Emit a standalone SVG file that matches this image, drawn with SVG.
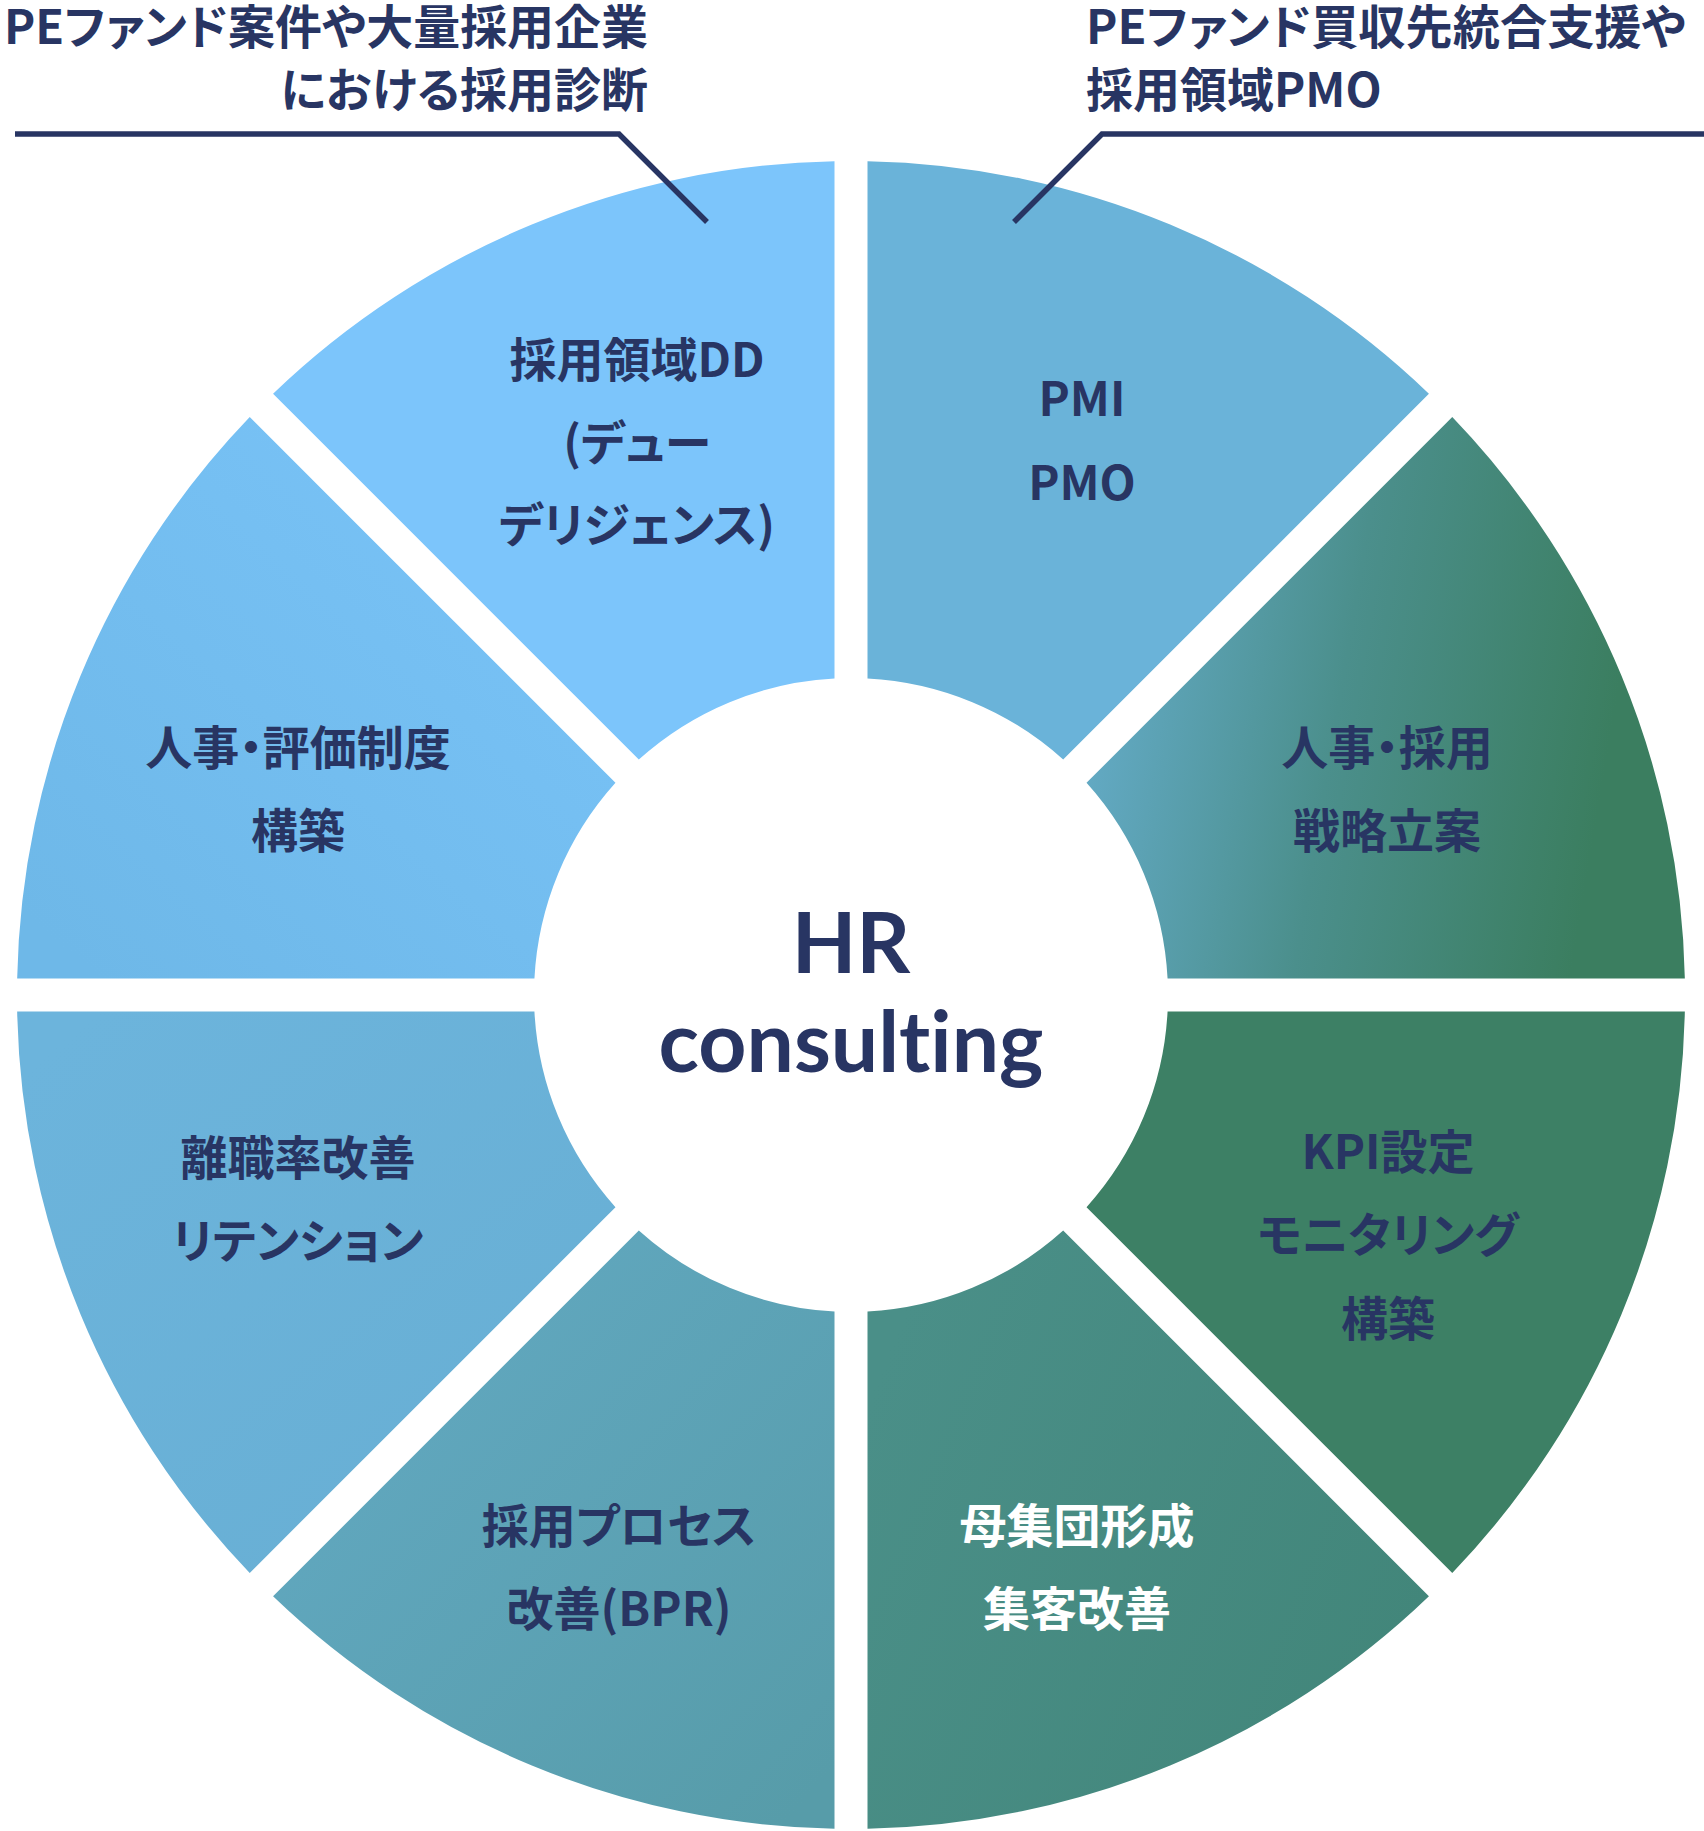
<svg xmlns="http://www.w3.org/2000/svg" width="1704" height="1831" viewBox="0 0 1704 1831">
<defs>
<style>
.jp{font-family:"Noto Sans CJK JP","Noto Sans",sans-serif;font-weight:700;fill:#283563;font-feature-settings:"palt";}
.lbl{font-size:47px;text-anchor:middle;}
.head{font-size:47px;}
.white{fill:#ffffff;}
.center{font-family:Lato,"Liberation Sans",sans-serif;font-weight:700;fill:#283563;text-anchor:middle;font-size:84px;font-variant-ligatures:none;font-feature-settings:"liga" 0,"clig" 0;}
.leader{fill:none;stroke:#283563;stroke-width:5.5;stroke-linejoin:miter;}
</style>
<linearGradient id="gW135" gradientUnits="userSpaceOnUse" x1="600" y1="420" x2="100" y2="980">
<stop offset="0" stop-color="#7AC4F9"/><stop offset="1" stop-color="#6EB8E8"/>
</linearGradient>
<linearGradient id="gW180" gradientUnits="userSpaceOnUse" x1="100" y1="1010" x2="500" y2="1500">
<stop offset="0" stop-color="#6CB4DC"/><stop offset="1" stop-color="#68AFD4"/>
</linearGradient>
<linearGradient id="gW225" gradientUnits="userSpaceOnUse" x1="300" y1="1250" x2="850" y2="1750">
<stop offset="0" stop-color="#63AAC4"/><stop offset="1" stop-color="#579CA9"/>
</linearGradient>
<linearGradient id="gW270" gradientUnits="userSpaceOnUse" x1="870" y1="1400" x2="1420" y2="1620">
<stop offset="0" stop-color="#4A8F88"/><stop offset="1" stop-color="#42867A"/>
</linearGradient>
<linearGradient id="gW0" gradientUnits="userSpaceOnUse" x1="1000" y1="700" x2="1600" y2="800">
<stop offset="0" stop-color="#6CB4DA"/><stop offset="0.55" stop-color="#4B8F8C"/><stop offset="1" stop-color="#3B7E60"/>
</linearGradient>
</defs>

<g id="wedge-top-left">
<path d="M834.5,678.43 L834.5,161.16 A834,834 0 0 0 273.06,393.72 L638.82,759.48 A317,317 0 0 1 834.5,678.43 Z" fill="#7CC5FB"/>
<text class="jp lbl" x="637" y="377">採用領域DD</text>
<text class="jp lbl" x="637" y="460">(デュー</text>
<text class="jp lbl" x="637" y="542">デリジェンス)</text>
</g>

<g id="wedge-top-right">
<path d="M1063.18,759.48 L1428.94,393.72 A834,834 0 0 0 867.5,161.16 L867.5,678.43 A317,317 0 0 1 1063.18,759.48 Z" fill="#6AB3D9"/>
<text class="jp lbl" x="1082" y="416">PMI</text>
<text class="jp lbl" x="1082" y="500">PMO</text>
</g>

<g id="wedge-right-upper">
<path d="M1167.57,978.5 L1684.84,978.5 A834,834 0 0 0 1452.28,417.06 L1086.52,782.82 A317,317 0 0 1 1167.57,978.5 Z" fill="url(#gW0)"/>
<text class="jp lbl" x="1387" y="765">人事・採用</text>
<text class="jp lbl" x="1387" y="848">戦略立案</text>
</g>

<g id="wedge-left-upper">
<path d="M615.48,782.82 L249.72,417.06 A834,834 0 0 0 17.16,978.5 L534.43,978.5 A317,317 0 0 1 615.48,782.82 Z" fill="url(#gW135)"/>
<text class="jp lbl" x="298" y="765">人事・評価制度</text>
<text class="jp lbl" x="298" y="848">構築</text>
</g>

<g id="wedge-left-lower">
<path d="M534.43,1011.5 L17.16,1011.5 A834,834 0 0 0 249.72,1572.94 L615.48,1207.18 A317,317 0 0 1 534.43,1011.5 Z" fill="url(#gW180)"/>
<text class="jp lbl" x="298" y="1175">離職率改善</text>
<text class="jp lbl" x="298" y="1258">リテンション</text>
</g>

<g id="wedge-bottom-left">
<path d="M638.82,1230.52 L273.06,1596.28 A834,834 0 0 0 834.5,1828.84 L834.5,1311.57 A317,317 0 0 1 638.82,1230.52 Z" fill="url(#gW225)"/>
<text class="jp lbl" x="619" y="1543">採用プロセス</text>
<text class="jp lbl" x="619" y="1626">改善(BPR)</text>
</g>

<g id="wedge-bottom-right">
<path d="M867.5,1311.57 L867.5,1828.84 A834,834 0 0 0 1428.94,1596.28 L1063.18,1230.52 A317,317 0 0 1 867.5,1311.57 Z" fill="url(#gW270)"/>
<text class="jp lbl white" x="1077" y="1543">母集団形成</text>
<text class="jp lbl white" x="1077" y="1626">集客改善</text>
</g>

<g id="wedge-right-lower">
<path d="M1086.52,1207.18 L1452.28,1572.94 A834,834 0 0 0 1684.84,1011.5 L1167.57,1011.5 A317,317 0 0 1 1086.52,1207.18 Z" fill="#3D8065"/>
<text class="jp lbl" x="1388" y="1169">KPI設定</text>
<text class="jp lbl" x="1388" y="1252">モニタリング</text>
<text class="jp lbl" x="1388" y="1336">構築</text>
</g>

<g id="center">
<text class="center" x="851" y="973">HR</text>
<text class="center" x="851" y="1072">consulting</text>
</g>

<g id="callout-left">
<text class="jp head" x="648" y="44" text-anchor="end" textLength="644" lengthAdjust="spacingAndGlyphs">PEファンド案件や大量採用企業</text>
<text class="jp head" x="648" y="107" text-anchor="end">における採用診断</text>
</g>

<g id="callout-right">
<text class="jp head" x="1086" y="44" textLength="600" lengthAdjust="spacingAndGlyphs">PEファンド買収先統合支援や</text>
<text class="jp head" x="1086" y="107">採用領域PMO</text>
</g>

<g id="connectors">
<polyline class="leader" points="15,134 619,134 707,222"/>
<polyline class="leader" points="1704,134 1102,134 1014,222"/>
</g>
</svg>
